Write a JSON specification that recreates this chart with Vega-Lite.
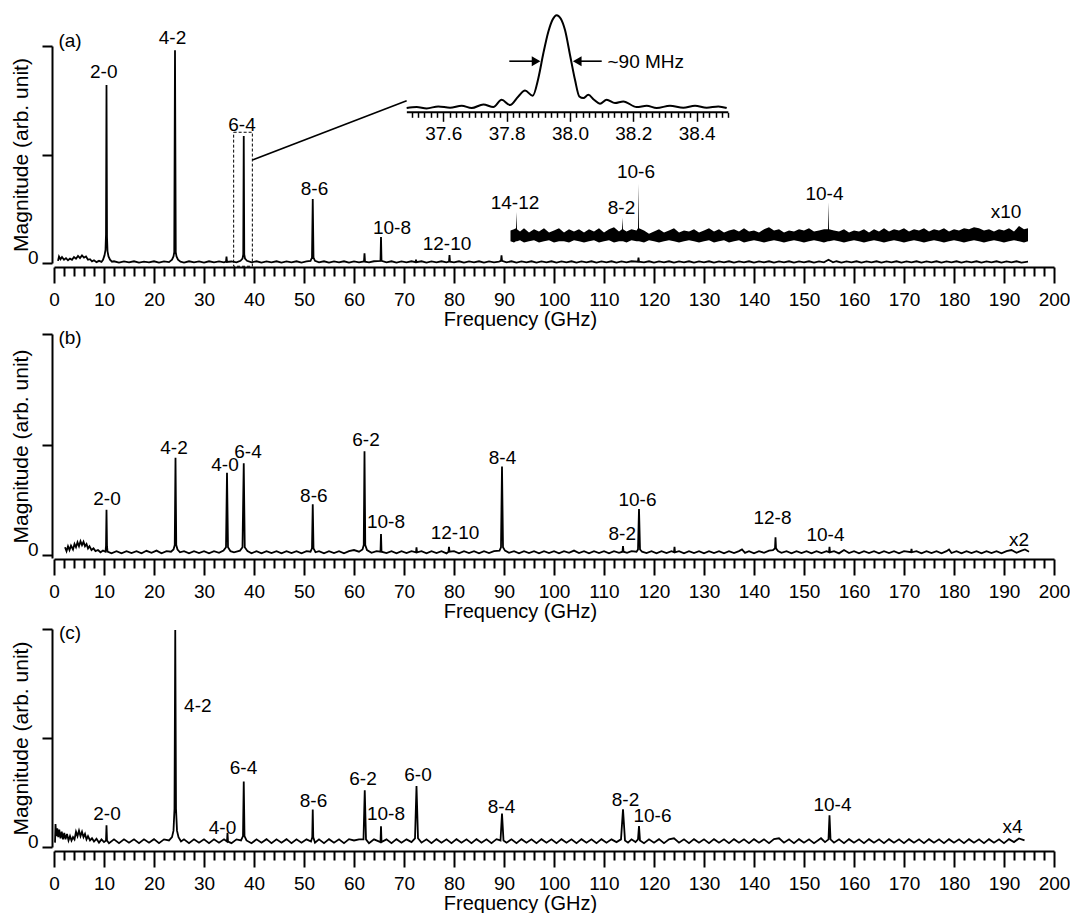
{
"$schema":"https://vega.github.io/schema/vega-lite/v6.json",
"padding":{"left":10,"top":11,"right":0,"bottom":0},
"config":{"font":"Liberation Sans","view":{"stroke":null},
"axis":{"domainColor":"black","domainWidth":2,"tickColor":"black","tickWidth":2,"labelColor":"black","labelFontSize":19,"titleColor":"black","titleFontWeight":"normal","grid":false}},
"datasets":{
"a":[{"f":0.8,"v":0.02},{"f":1.0,"v":0.06},{"f":1.3,"v":0.035},{"f":1.6,"v":0.055},{"f":2.0,"v":0.03},{"f":2.4,"v":0.045},{"f":2.8,"v":0.025},{"f":3.2,"v":0.04},{"f":3.6,"v":0.03},{"f":4.0,"v":0.055},{"f":4.4,"v":0.04},{"f":4.8,"v":0.065},{"f":5.2,"v":0.045},{"f":5.6,"v":0.07},{"f":6.0,"v":0.05},{"f":6.4,"v":0.06},{"f":6.8,"v":0.03},{"f":7.2,"v":0.035},{"f":7.6,"v":0.015},{"f":8.0,"v":0.025},{"f":8.5,"v":0.008},{"f":9.0,"v":0.02},{"f":9.5,"v":0.01},{"f":9.8,"v":0.03},{"f":10.1,"v":0.07},{"f":10.3,"v":0.12},{"f":10.4,"v":0.26},{"f":10.5,"v":1.64},{"f":10.6,"v":0.24},{"f":10.7,"v":0.11},{"f":10.9,"v":0.06},{"f":11.2,"v":0.03},{"f":11.6,"v":0.012},{"f":12,"v":0.016},{"f":13,"v":0.004},{"f":14,"v":0.014},{"f":15,"v":0.006},{"f":16,"v":0.016},{"f":17,"v":0.004},{"f":18,"v":0.012},{"f":19,"v":0.006},{"f":20,"v":0.016},{"f":21,"v":0.004},{"f":22,"v":0.014},{"f":23,"v":0.008},{"f":23.6,"v":0.03},{"f":23.9,"v":0.06},{"f":24.05,"v":0.1},{"f":24.2,"v":1.96},{"f":24.35,"v":0.1},{"f":24.5,"v":0.06},{"f":24.8,"v":0.03},{"f":25.3,"v":0.012},{"f":26,"v":0.004},{"f":27,"v":0.016},{"f":28,"v":0.006},{"f":29,"v":0.014},{"f":30,"v":0.004},{"f":31,"v":0.016},{"f":32,"v":0.006},{"f":33,"v":0.014},{"f":34,"v":0.006},{"f":34.4,"v":0.012},{"f":34.5,"v":0.06},{"f":34.6,"v":0.01},{"f":35.5,"v":0.014},{"f":36.5,"v":0.006},{"f":37.3,"v":0.02},{"f":37.7,"v":0.04},{"f":37.85,"v":0.08},{"f":37.95,"v":1.17},{"f":38.05,"v":0.08},{"f":38.2,"v":0.04},{"f":38.6,"v":0.02},{"f":39.5,"v":0.006},{"f":40.5,"v":0.016},{"f":41.5,"v":0.004},{"f":42.5,"v":0.014},{"f":43.5,"v":0.006},{"f":44.5,"v":0.016},{"f":45.5,"v":0.004},{"f":46.5,"v":0.014},{"f":47.5,"v":0.006},{"f":48.5,"v":0.016},{"f":49.5,"v":0.004},{"f":50.5,"v":0.014},{"f":51.3,"v":0.02},{"f":51.6,"v":0.05},{"f":51.75,"v":0.59},{"f":51.9,"v":0.05},{"f":52.2,"v":0.02},{"f":53,"v":0.006},{"f":54,"v":0.016},{"f":55,"v":0.004},{"f":56,"v":0.014},{"f":57,"v":0.006},{"f":58,"v":0.016},{"f":59,"v":0.004},{"f":60,"v":0.014},{"f":61,"v":0.006},{"f":62.0,"v":0.014},{"f":62.1,"v":0.09},{"f":62.2,"v":0.012},{"f":63,"v":0.006},{"f":64,"v":0.016},{"f":65.3,"v":0.02},{"f":65.4,"v":0.24},{"f":65.5,"v":0.02},{"f":66.5,"v":0.006},{"f":67.5,"v":0.016},{"f":68.5,"v":0.004},{"f":69.5,"v":0.014},{"f":70.5,"v":0.006},{"f":71.5,"v":0.016},{"f":72.3,"v":0.008},{"f":72.4,"v":0.03},{"f":72.5,"v":0.008},{"f":73.5,"v":0.016},{"f":74.5,"v":0.004},{"f":75.5,"v":0.014},{"f":76.5,"v":0.006},{"f":77.5,"v":0.016},{"f":78.5,"v":0.006},{"f":79.0,"v":0.014},{"f":79.1,"v":0.073},{"f":79.2,"v":0.012},{"f":80,"v":0.006},{"f":81,"v":0.016},{"f":82,"v":0.004},{"f":83,"v":0.014},{"f":84,"v":0.006},{"f":85,"v":0.016},{"f":86,"v":0.004},{"f":87,"v":0.014},{"f":88,"v":0.006},{"f":89.0,"v":0.012},{"f":89.4,"v":0.02},{"f":89.5,"v":0.07},{"f":89.6,"v":0.02},{"f":90.5,"v":0.006},{"f":91.5,"v":0.016},{"f":92.5,"v":0.004},{"f":93.5,"v":0.014},{"f":94.5,"v":0.006},{"f":95.5,"v":0.016},{"f":96.5,"v":0.004},{"f":97.5,"v":0.014},{"f":98.5,"v":0.006},{"f":99.5,"v":0.016},{"f":100.5,"v":0.004},{"f":101.5,"v":0.014},{"f":102.5,"v":0.006},{"f":103.5,"v":0.016},{"f":104.5,"v":0.004},{"f":105.5,"v":0.014},{"f":106.5,"v":0.006},{"f":107.5,"v":0.016},{"f":108.5,"v":0.004},{"f":109.5,"v":0.014},{"f":110.5,"v":0.006},{"f":111.5,"v":0.016},{"f":112.5,"v":0.004},{"f":113.5,"v":0.014},{"f":114.5,"v":0.006},{"f":115.5,"v":0.016},{"f":116.8,"v":0.012},{"f":116.9,"v":0.05},{"f":117.0,"v":0.012},{"f":118,"v":0.006},{"f":119,"v":0.016},{"f":120,"v":0.004},{"f":121,"v":0.014},{"f":122,"v":0.006},{"f":123,"v":0.016},{"f":124,"v":0.004},{"f":125,"v":0.014},{"f":126,"v":0.006},{"f":127,"v":0.016},{"f":128,"v":0.004},{"f":129,"v":0.014},{"f":130,"v":0.006},{"f":131,"v":0.016},{"f":132,"v":0.004},{"f":133,"v":0.014},{"f":134,"v":0.006},{"f":135,"v":0.016},{"f":136,"v":0.004},{"f":137,"v":0.014},{"f":138,"v":0.006},{"f":139,"v":0.016},{"f":140,"v":0.004},{"f":141,"v":0.014},{"f":142,"v":0.006},{"f":143,"v":0.016},{"f":144,"v":0.004},{"f":145,"v":0.014},{"f":146,"v":0.006},{"f":147,"v":0.016},{"f":148,"v":0.004},{"f":149,"v":0.014},{"f":150,"v":0.006},{"f":151,"v":0.016},{"f":152,"v":0.004},{"f":153,"v":0.014},{"f":154,"v":0.006},{"f":154.9,"v":0.03},{"f":155.8,"v":0.006},{"f":156.5,"v":0.016},{"f":157.5,"v":0.004},{"f":158.5,"v":0.014},{"f":159.5,"v":0.006},{"f":160.5,"v":0.016},{"f":161.5,"v":0.004},{"f":162.5,"v":0.014},{"f":163.5,"v":0.006},{"f":164.5,"v":0.016},{"f":165.5,"v":0.004},{"f":166.5,"v":0.014},{"f":167.5,"v":0.006},{"f":168.5,"v":0.016},{"f":169.5,"v":0.004},{"f":170.5,"v":0.014},{"f":171.5,"v":0.006},{"f":172.5,"v":0.016},{"f":173.5,"v":0.004},{"f":174.5,"v":0.014},{"f":175.5,"v":0.006},{"f":176.5,"v":0.016},{"f":177.5,"v":0.004},{"f":178.5,"v":0.014},{"f":179.5,"v":0.006},{"f":180.5,"v":0.016},{"f":181.5,"v":0.004},{"f":182.5,"v":0.014},{"f":183.5,"v":0.006},{"f":184.5,"v":0.016},{"f":185.5,"v":0.004},{"f":186.5,"v":0.014},{"f":187.5,"v":0.006},{"f":188.5,"v":0.016},{"f":189.5,"v":0.004},{"f":190.5,"v":0.014},{"f":191.5,"v":0.006},{"f":192.5,"v":0.016},{"f":193.5,"v":0.004},{"f":194.8,"v":0.012}],
"ax":[{"f":91.3,"hi":0.3,"lo":0.2},{"f":92.0,"hi":0.31,"lo":0.19},{"f":92.4,"hi":0.32,"lo":0.2},{"f":92.5,"hi":0.47,"lo":0.2},{"f":92.6,"hi":0.31,"lo":0.2},{"f":93.2,"hi":0.29,"lo":0.21},{"f":94,"hi":0.32,"lo":0.19},{"f":95,"hi":0.28,"lo":0.2},{"f":96,"hi":0.31,"lo":0.21},{"f":97,"hi":0.29,"lo":0.19},{"f":98,"hi":0.32,"lo":0.2},{"f":99,"hi":0.28,"lo":0.21},{"f":100,"hi":0.3,"lo":0.19},{"f":101,"hi":0.32,"lo":0.2},{"f":102,"hi":0.28,"lo":0.2},{"f":103,"hi":0.31,"lo":0.19},{"f":104,"hi":0.29,"lo":0.21},{"f":105,"hi":0.31,"lo":0.2},{"f":106,"hi":0.28,"lo":0.19},{"f":107,"hi":0.31,"lo":0.2},{"f":108,"hi":0.29,"lo":0.21},{"f":109,"hi":0.32,"lo":0.19},{"f":110,"hi":0.28,"lo":0.2},{"f":111,"hi":0.31,"lo":0.21},{"f":112,"hi":0.33,"lo":0.19},{"f":113,"hi":0.29,"lo":0.2},{"f":113.6,"hi":0.31,"lo":0.2},{"f":113.7,"hi":0.42,"lo":0.2},{"f":113.8,"hi":0.31,"lo":0.2},{"f":114.5,"hi":0.29,"lo":0.19},{"f":115.5,"hi":0.31,"lo":0.21},{"f":116.5,"hi":0.3,"lo":0.2},{"f":116.8,"hi":0.32,"lo":0.2},{"f":116.9,"hi":0.73,"lo":0.2},{"f":117.0,"hi":0.32,"lo":0.2},{"f":118,"hi":0.3,"lo":0.19},{"f":119,"hi":0.27,"lo":0.21},{"f":120,"hi":0.29,"lo":0.2},{"f":121,"hi":0.31,"lo":0.19},{"f":122,"hi":0.28,"lo":0.2},{"f":123,"hi":0.3,"lo":0.21},{"f":124,"hi":0.32,"lo":0.2},{"f":125,"hi":0.28,"lo":0.19},{"f":126,"hi":0.3,"lo":0.2},{"f":127,"hi":0.29,"lo":0.21},{"f":128,"hi":0.31,"lo":0.2},{"f":129,"hi":0.28,"lo":0.19},{"f":130,"hi":0.3,"lo":0.2},{"f":131,"hi":0.32,"lo":0.21},{"f":132,"hi":0.29,"lo":0.19},{"f":133,"hi":0.31,"lo":0.2},{"f":134,"hi":0.28,"lo":0.21},{"f":135,"hi":0.3,"lo":0.19},{"f":136,"hi":0.31,"lo":0.2},{"f":137,"hi":0.29,"lo":0.21},{"f":138,"hi":0.32,"lo":0.19},{"f":139,"hi":0.29,"lo":0.2},{"f":140,"hi":0.3,"lo":0.21},{"f":141,"hi":0.28,"lo":0.2},{"f":142,"hi":0.31,"lo":0.19},{"f":143,"hi":0.33,"lo":0.2},{"f":144,"hi":0.3,"lo":0.21},{"f":145,"hi":0.31,"lo":0.2},{"f":146,"hi":0.28,"lo":0.19},{"f":147,"hi":0.3,"lo":0.2},{"f":148,"hi":0.29,"lo":0.21},{"f":149,"hi":0.31,"lo":0.2},{"f":150,"hi":0.3,"lo":0.19},{"f":151,"hi":0.32,"lo":0.2},{"f":152,"hi":0.29,"lo":0.21},{"f":153,"hi":0.3,"lo":0.2},{"f":154,"hi":0.31,"lo":0.19},{"f":154.8,"hi":0.31,"lo":0.2},{"f":154.9,"hi":0.56,"lo":0.2},{"f":155.0,"hi":0.31,"lo":0.2},{"f":156,"hi":0.3,"lo":0.21},{"f":157,"hi":0.29,"lo":0.2},{"f":158,"hi":0.31,"lo":0.19},{"f":159,"hi":0.28,"lo":0.2},{"f":160,"hi":0.3,"lo":0.21},{"f":161,"hi":0.29,"lo":0.2},{"f":162,"hi":0.31,"lo":0.19},{"f":163,"hi":0.28,"lo":0.2},{"f":164,"hi":0.31,"lo":0.21},{"f":165,"hi":0.29,"lo":0.2},{"f":166,"hi":0.32,"lo":0.19},{"f":167,"hi":0.29,"lo":0.2},{"f":168,"hi":0.31,"lo":0.21},{"f":169,"hi":0.3,"lo":0.2},{"f":170,"hi":0.32,"lo":0.19},{"f":171,"hi":0.29,"lo":0.2},{"f":172,"hi":0.31,"lo":0.21},{"f":173,"hi":0.3,"lo":0.2},{"f":174,"hi":0.32,"lo":0.19},{"f":175,"hi":0.29,"lo":0.2},{"f":176,"hi":0.31,"lo":0.21},{"f":177,"hi":0.3,"lo":0.2},{"f":178,"hi":0.32,"lo":0.19},{"f":179,"hi":0.29,"lo":0.2},{"f":180,"hi":0.31,"lo":0.21},{"f":181,"hi":0.3,"lo":0.2},{"f":182,"hi":0.32,"lo":0.19},{"f":183,"hi":0.31,"lo":0.2},{"f":184,"hi":0.33,"lo":0.21},{"f":185,"hi":0.32,"lo":0.2},{"f":186,"hi":0.3,"lo":0.19},{"f":187,"hi":0.31,"lo":0.2},{"f":188,"hi":0.29,"lo":0.21},{"f":189,"hi":0.31,"lo":0.2},{"f":190,"hi":0.3,"lo":0.19},{"f":191,"hi":0.32,"lo":0.2},{"f":192,"hi":0.29,"lo":0.21},{"f":193,"hi":0.34,"lo":0.2},{"f":194,"hi":0.31,"lo":0.19},{"f":194.8,"hi":0.32,"lo":0.2}],
"la":[{"f":3.2,"v":2.046,"t":"(a)"},{"f":9.95,"v":1.757,"t":"2-0"},{"f":23.7,"v":2.07,"t":"4-2"},{"f":37.6,"v":1.275,"t":"6-4"},{"f":52.1,"v":0.68,"t":"8-6"},{"f":67.6,"v":0.326,"t":"10-8"},{"f":78.6,"v":0.175,"t":"12-10"},{"f":92.2,"v":0.55,"t":"14-12"},{"f":113.5,"v":0.51,"t":"8-2"},{"f":116.4,"v":0.835,"t":"10-6"},{"f":154.1,"v":0.64,"t":"10-4"},{"f":190.4,"v":0.47,"t":"x10"}],
"box":[{"f":35.93,"f2":39.67,"v":-0.03,"v2":1.205}],
"conn":[{"f":39.67,"v":0.949,"f2":70.53,"v2":1.496}],
"ins":[{"f":37.4844,"v":1.4282},{"f":37.516,"v":1.437},{"f":37.5476,"v":1.425},{"f":37.5844,"v":1.4434},{"f":37.6213,"v":1.431},{"f":37.6581,"v":1.4495},{"f":37.6897,"v":1.428},{"f":37.7265,"v":1.4618},{"f":37.7581,"v":1.437},{"f":37.7844,"v":1.5046},{"f":37.8107,"v":1.4557},{"f":37.837,"v":1.5352},{"f":37.8581,"v":1.5902},{"f":37.8823,"v":1.5413},{"f":37.9002,"v":1.7034},{"f":37.916,"v":1.9327},{"f":37.9317,"v":2.1315},{"f":37.9454,"v":2.2446},{"f":37.9581,"v":2.2844},{"f":37.9707,"v":2.2538},{"f":37.9844,"v":2.1468},{"f":38.0002,"v":1.9174},{"f":38.0159,"v":1.6881},{"f":38.0296,"v":1.5352},{"f":38.0423,"v":1.5199},{"f":38.058,"v":1.5505},{"f":38.0759,"v":1.5046},{"f":38.0949,"v":1.4679},{"f":38.1159,"v":1.5046},{"f":38.1422,"v":1.474},{"f":38.1685,"v":1.4893},{"f":38.2107,"v":1.437},{"f":38.2423,"v":1.4495},{"f":38.2738,"v":1.428},{"f":38.3159,"v":1.4495},{"f":38.358,"v":1.431},{"f":38.3949,"v":1.4495},{"f":38.4317,"v":1.431},{"f":38.4685,"v":1.4434},{"f":38.4949,"v":1.4282}],
"insAx":[{"f":37.485,"f2":38.5,"v":1.389}],
"insArr":[{"f":37.8085,"f2":37.9,"v":1.86},{"f":38.02,"f2":38.1003,"v":1.86}],
"headR":[{"f":37.893,"v":1.86}],
"headL":[{"f":38.023,"v":1.86}],
"insT":[{"f":38.2395,"v":1.856,"t":"~90 MHz"}],
"b":[{"f":2.2,"v":0.07},{"f":2.5,"v":0.035},{"f":2.8,"v":0.08},{"f":3.1,"v":0.045},{"f":3.4,"v":0.085},{"f":3.8,"v":0.05},{"f":4.1,"v":0.1},{"f":4.4,"v":0.07},{"f":4.7,"v":0.115},{"f":5.0,"v":0.08},{"f":5.3,"v":0.125},{"f":5.6,"v":0.09},{"f":5.9,"v":0.12},{"f":6.2,"v":0.08},{"f":6.5,"v":0.1},{"f":6.8,"v":0.06},{"f":7.1,"v":0.08},{"f":7.5,"v":0.045},{"f":7.9,"v":0.06},{"f":8.3,"v":0.035},{"f":8.8,"v":0.045},{"f":9.3,"v":0.025},{"f":9.8,"v":0.04},{"f":10.3,"v":0.03},{"f":10.4,"v":0.08},{"f":10.5,"v":0.41},{"f":10.6,"v":0.08},{"f":10.7,"v":0.03},{"f":11.5,"v":0.015},{"f":12.5,"v":0.035},{"f":13.5,"v":0.015},{"f":14.5,"v":0.035},{"f":15.5,"v":0.018},{"f":16.5,"v":0.035},{"f":17.5,"v":0.015},{"f":18.5,"v":0.038},{"f":19.5,"v":0.02},{"f":20.5,"v":0.04},{"f":21.5,"v":0.015},{"f":22.5,"v":0.035},{"f":23.4,"v":0.03},{"f":23.9,"v":0.05},{"f":24.15,"v":0.09},{"f":24.3,"v":0.88},{"f":24.45,"v":0.09},{"f":24.7,"v":0.05},{"f":25.2,"v":0.025},{"f":26,"v":0.035},{"f":27,"v":0.015},{"f":28,"v":0.035},{"f":29,"v":0.018},{"f":30,"v":0.035},{"f":31,"v":0.015},{"f":32,"v":0.035},{"f":33,"v":0.02},{"f":33.9,"v":0.04},{"f":34.4,"v":0.07},{"f":34.6,"v":0.745},{"f":34.8,"v":0.07},{"f":35.3,"v":0.035},{"f":36,"v":0.025},{"f":37.2,"v":0.04},{"f":37.7,"v":0.07},{"f":37.95,"v":0.83},{"f":38.15,"v":0.07},{"f":38.7,"v":0.035},{"f":39.5,"v":0.015},{"f":40.5,"v":0.035},{"f":41.5,"v":0.015},{"f":42.5,"v":0.035},{"f":43.5,"v":0.018},{"f":44.5,"v":0.035},{"f":45.5,"v":0.015},{"f":46.5,"v":0.035},{"f":47.5,"v":0.018},{"f":48.5,"v":0.035},{"f":49.5,"v":0.015},{"f":50.5,"v":0.035},{"f":51.3,"v":0.03},{"f":51.6,"v":0.06},{"f":51.75,"v":0.46},{"f":51.9,"v":0.06},{"f":52.3,"v":0.025},{"f":53,"v":0.035},{"f":54,"v":0.015},{"f":55,"v":0.035},{"f":56,"v":0.018},{"f":57,"v":0.035},{"f":58,"v":0.015},{"f":59,"v":0.035},{"f":60,"v":0.045},{"f":61,"v":0.03},{"f":61.7,"v":0.05},{"f":61.95,"v":0.09},{"f":62.1,"v":0.94},{"f":62.25,"v":0.09},{"f":62.6,"v":0.045},{"f":63.5,"v":0.02},{"f":64.5,"v":0.035},{"f":65.3,"v":0.03},{"f":65.4,"v":0.19},{"f":65.5,"v":0.03},{"f":66.5,"v":0.018},{"f":67.5,"v":0.035},{"f":68.5,"v":0.015},{"f":69.5,"v":0.035},{"f":70.5,"v":0.018},{"f":71.5,"v":0.035},{"f":72.4,"v":0.025},{"f":72.5,"v":0.07},{"f":72.6,"v":0.025},{"f":73.5,"v":0.035},{"f":74.5,"v":0.015},{"f":75.5,"v":0.035},{"f":76.5,"v":0.018},{"f":77.5,"v":0.035},{"f":78.5,"v":0.015},{"f":78.9,"v":0.03},{"f":79.0,"v":0.075},{"f":79.1,"v":0.03},{"f":80,"v":0.035},{"f":81,"v":0.015},{"f":82,"v":0.035},{"f":83,"v":0.018},{"f":84,"v":0.035},{"f":85,"v":0.015},{"f":86,"v":0.035},{"f":87,"v":0.018},{"f":88,"v":0.035},{"f":89.1,"v":0.04},{"f":89.4,"v":0.07},{"f":89.6,"v":0.8},{"f":89.8,"v":0.07},{"f":90.2,"v":0.04},{"f":91,"v":0.02},{"f":92,"v":0.035},{"f":93,"v":0.015},{"f":94,"v":0.035},{"f":95,"v":0.018},{"f":96,"v":0.035},{"f":97,"v":0.015},{"f":98,"v":0.035},{"f":99,"v":0.018},{"f":100,"v":0.035},{"f":101,"v":0.015},{"f":102,"v":0.035},{"f":103,"v":0.02},{"f":104,"v":0.04},{"f":105,"v":0.018},{"f":106,"v":0.035},{"f":107,"v":0.015},{"f":108,"v":0.035},{"f":109,"v":0.018},{"f":110,"v":0.035},{"f":111,"v":0.015},{"f":112,"v":0.035},{"f":113,"v":0.02},{"f":113.7,"v":0.03},{"f":113.8,"v":0.08},{"f":113.9,"v":0.03},{"f":114.6,"v":0.02},{"f":115.5,"v":0.035},{"f":116.5,"v":0.03},{"f":116.8,"v":0.05},{"f":117.0,"v":0.416},{"f":117.2,"v":0.05},{"f":117.6,"v":0.03},{"f":118.5,"v":0.018},{"f":119.5,"v":0.035},{"f":120.5,"v":0.015},{"f":121.5,"v":0.035},{"f":122.5,"v":0.018},{"f":123.5,"v":0.035},{"f":124.0,"v":0.025},{"f":124.1,"v":0.075},{"f":124.2,"v":0.025},{"f":125,"v":0.035},{"f":126,"v":0.015},{"f":127,"v":0.035},{"f":128,"v":0.018},{"f":129,"v":0.035},{"f":130,"v":0.015},{"f":131,"v":0.035},{"f":132,"v":0.018},{"f":133,"v":0.035},{"f":134,"v":0.015},{"f":135,"v":0.035},{"f":136,"v":0.018},{"f":137,"v":0.035},{"f":137.6,"v":0.05},{"f":138.2,"v":0.02},{"f":139,"v":0.035},{"f":140,"v":0.015},{"f":141,"v":0.035},{"f":142,"v":0.02},{"f":143,"v":0.04},{"f":143.8,"v":0.045},{"f":144.2,"v":0.06},{"f":144.3,"v":0.16},{"f":144.4,"v":0.06},{"f":144.8,"v":0.035},{"f":145.5,"v":0.02},{"f":146.5,"v":0.035},{"f":147.5,"v":0.015},{"f":148.5,"v":0.035},{"f":149.5,"v":0.018},{"f":150.5,"v":0.035},{"f":151.5,"v":0.015},{"f":152.5,"v":0.035},{"f":153.5,"v":0.018},{"f":154.5,"v":0.035},{"f":155.0,"v":0.025},{"f":155.1,"v":0.075},{"f":155.2,"v":0.025},{"f":156,"v":0.035},{"f":157,"v":0.015},{"f":158,"v":0.045},{"f":159,"v":0.018},{"f":160,"v":0.035},{"f":161,"v":0.015},{"f":162,"v":0.035},{"f":163,"v":0.018},{"f":164,"v":0.035},{"f":165,"v":0.015},{"f":166,"v":0.035},{"f":167,"v":0.018},{"f":168,"v":0.035},{"f":169,"v":0.015},{"f":170,"v":0.035},{"f":171.4,"v":0.025},{"f":171.5,"v":0.055},{"f":171.6,"v":0.025},{"f":172.5,"v":0.035},{"f":173.5,"v":0.015},{"f":174.5,"v":0.035},{"f":175.5,"v":0.018},{"f":176.5,"v":0.035},{"f":177.5,"v":0.015},{"f":178.5,"v":0.035},{"f":179,"v":0.05},{"f":179.5,"v":0.018},{"f":180.5,"v":0.035},{"f":181.5,"v":0.015},{"f":182.5,"v":0.035},{"f":183.5,"v":0.018},{"f":184.5,"v":0.035},{"f":185.5,"v":0.015},{"f":186.5,"v":0.035},{"f":187.5,"v":0.018},{"f":188.5,"v":0.035},{"f":189.5,"v":0.015},{"f":190.5,"v":0.035},{"f":191.5,"v":0.045},{"f":192.5,"v":0.02},{"f":193.5,"v":0.04},{"f":194.2,"v":0.05},{"f":195,"v":0.03}],
"lb":[{"f":3.2,"v":1.967,"t":"(b)"},{"f":10.6,"v":0.504,"t":"2-0"},{"f":24.0,"v":0.971,"t":"4-2"},{"f":34.2,"v":0.814,"t":"4-0"},{"f":38.8,"v":0.934,"t":"6-4"},{"f":51.97,"v":0.53,"t":"8-6"},{"f":62.4,"v":1.038,"t":"6-2"},{"f":66.4,"v":0.299,"t":"10-8"},{"f":80.2,"v":0.2,"t":"12-10"},{"f":89.7,"v":0.88,"t":"8-4"},{"f":113.65,"v":0.19,"t":"8-2"},{"f":116.7,"v":0.5,"t":"10-6"},{"f":143.7,"v":0.335,"t":"12-8"},{"f":154.3,"v":0.18,"t":"10-4"},{"f":193.0,"v":0.134,"t":"x2"}],
"c":[{"f":0.2,"v":0.04},{"f":0.3,"v":0.21},{"f":0.45,"v":0.1},{"f":0.65,"v":0.17},{"f":0.85,"v":0.09},{"f":1.05,"v":0.16},{"f":1.3,"v":0.08},{"f":1.55,"v":0.14},{"f":1.8,"v":0.07},{"f":2.05,"v":0.13},{"f":2.3,"v":0.07},{"f":2.6,"v":0.12},{"f":2.9,"v":0.06},{"f":3.2,"v":0.1},{"f":3.5,"v":0.06},{"f":3.8,"v":0.09},{"f":4.1,"v":0.07},{"f":4.4,"v":0.14},{"f":4.7,"v":0.1},{"f":5.0,"v":0.15},{"f":5.3,"v":0.1},{"f":5.6,"v":0.14},{"f":5.9,"v":0.09},{"f":6.2,"v":0.12},{"f":6.5,"v":0.07},{"f":6.8,"v":0.1},{"f":7.2,"v":0.06},{"f":7.6,"v":0.08},{"f":8.0,"v":0.05},{"f":8.5,"v":0.075},{"f":9.0,"v":0.04},{"f":9.5,"v":0.07},{"f":10.0,"v":0.045},{"f":10.4,"v":0.06},{"f":10.5,"v":0.2},{"f":10.6,"v":0.06},{"f":11.0,"v":0.035},{"f":12,"v":0.07},{"f":13,"v":0.035},{"f":14,"v":0.07},{"f":15,"v":0.04},{"f":16,"v":0.07},{"f":17,"v":0.035},{"f":18,"v":0.07},{"f":19,"v":0.04},{"f":20,"v":0.072},{"f":21,"v":0.035},{"f":22,"v":0.07},{"f":23,"v":0.06},{"f":23.6,"v":0.09},{"f":23.9,"v":0.15},{"f":24.1,"v":0.35},{"f":24.25,"v":1.99},{"f":24.4,"v":0.35},{"f":24.6,"v":0.15},{"f":24.9,"v":0.09},{"f":25.4,"v":0.05},{"f":26,"v":0.07},{"f":27,"v":0.035},{"f":28,"v":0.07},{"f":29,"v":0.04},{"f":30,"v":0.07},{"f":31,"v":0.035},{"f":32,"v":0.07},{"f":33,"v":0.04},{"f":34,"v":0.07},{"f":34.6,"v":0.05},{"f":34.7,"v":0.13},{"f":34.8,"v":0.05},{"f":35.5,"v":0.035},{"f":36.5,"v":0.07},{"f":37.4,"v":0.06},{"f":37.8,"v":0.1},{"f":37.95,"v":0.6},{"f":38.1,"v":0.1},{"f":38.5,"v":0.06},{"f":39.5,"v":0.035},{"f":40.5,"v":0.07},{"f":41.5,"v":0.04},{"f":42.5,"v":0.072},{"f":43.5,"v":0.035},{"f":44.5,"v":0.07},{"f":45.5,"v":0.04},{"f":46.5,"v":0.072},{"f":47.5,"v":0.035},{"f":48.5,"v":0.07},{"f":49.5,"v":0.04},{"f":50.5,"v":0.07},{"f":51.4,"v":0.05},{"f":51.65,"v":0.09},{"f":51.75,"v":0.345},{"f":51.85,"v":0.09},{"f":52.2,"v":0.04},{"f":53,"v":0.07},{"f":54,"v":0.035},{"f":55,"v":0.072},{"f":56,"v":0.04},{"f":57,"v":0.07},{"f":58,"v":0.035},{"f":59,"v":0.072},{"f":60,"v":0.06},{"f":61,"v":0.07},{"f":61.9,"v":0.07},{"f":62.15,"v":0.52},{"f":62.4,"v":0.07},{"f":63,"v":0.035},{"f":64,"v":0.07},{"f":65.3,"v":0.045},{"f":65.4,"v":0.19},{"f":65.5,"v":0.045},{"f":66.5,"v":0.07},{"f":67.5,"v":0.035},{"f":68.5,"v":0.072},{"f":69.5,"v":0.04},{"f":70.5,"v":0.07},{"f":71.5,"v":0.045},{"f":72.2,"v":0.08},{"f":72.5,"v":0.56},{"f":72.8,"v":0.08},{"f":73.5,"v":0.04},{"f":74.5,"v":0.07},{"f":75.5,"v":0.035},{"f":76.5,"v":0.072},{"f":77.5,"v":0.04},{"f":78.5,"v":0.07},{"f":79.5,"v":0.035},{"f":80.5,"v":0.072},{"f":81.5,"v":0.04},{"f":82.5,"v":0.07},{"f":83.5,"v":0.035},{"f":84.5,"v":0.072},{"f":85.5,"v":0.04},{"f":86.5,"v":0.07},{"f":87.5,"v":0.035},{"f":88.5,"v":0.072},{"f":89.3,"v":0.06},{"f":89.6,"v":0.306},{"f":89.9,"v":0.06},{"f":90.5,"v":0.04},{"f":91.5,"v":0.07},{"f":92.5,"v":0.035},{"f":93.5,"v":0.072},{"f":94.5,"v":0.04},{"f":95.5,"v":0.07},{"f":96.5,"v":0.035},{"f":97.5,"v":0.072},{"f":98.5,"v":0.04},{"f":99.5,"v":0.07},{"f":100.5,"v":0.035},{"f":101.5,"v":0.072},{"f":102.5,"v":0.04},{"f":103.5,"v":0.07},{"f":104.5,"v":0.035},{"f":105.5,"v":0.072},{"f":106.5,"v":0.04},{"f":107.5,"v":0.07},{"f":108.5,"v":0.035},{"f":109.5,"v":0.072},{"f":110.5,"v":0.04},{"f":111.5,"v":0.07},{"f":112.5,"v":0.045},{"f":113.4,"v":0.07},{"f":113.8,"v":0.346},{"f":114.2,"v":0.06},{"f":114.8,"v":0.04},{"f":115.5,"v":0.07},{"f":116.3,"v":0.045},{"f":116.8,"v":0.07},{"f":117.0,"v":0.193},{"f":117.2,"v":0.06},{"f":118,"v":0.035},{"f":119,"v":0.07},{"f":120,"v":0.04},{"f":121,"v":0.072},{"f":122,"v":0.035},{"f":123,"v":0.07},{"f":124,"v":0.08},{"f":125,"v":0.04},{"f":126,"v":0.07},{"f":127,"v":0.035},{"f":128,"v":0.072},{"f":129,"v":0.04},{"f":130,"v":0.07},{"f":131,"v":0.035},{"f":132,"v":0.072},{"f":133,"v":0.04},{"f":134,"v":0.07},{"f":135,"v":0.035},{"f":136,"v":0.072},{"f":137,"v":0.04},{"f":138,"v":0.07},{"f":139,"v":0.035},{"f":140,"v":0.072},{"f":141,"v":0.04},{"f":142,"v":0.07},{"f":143,"v":0.035},{"f":144,"v":0.072},{"f":145,"v":0.08},{"f":146,"v":0.04},{"f":147,"v":0.07},{"f":148,"v":0.035},{"f":149,"v":0.072},{"f":150,"v":0.04},{"f":151,"v":0.07},{"f":152,"v":0.035},{"f":153.4,"v":0.08},{"f":154.2,"v":0.045},{"f":154.9,"v":0.07},{"f":155.1,"v":0.29},{"f":155.3,"v":0.07},{"f":156,"v":0.04},{"f":157,"v":0.07},{"f":158,"v":0.035},{"f":159,"v":0.072},{"f":160,"v":0.04},{"f":161,"v":0.07},{"f":162,"v":0.035},{"f":163,"v":0.072},{"f":164,"v":0.04},{"f":165,"v":0.07},{"f":166,"v":0.035},{"f":167,"v":0.072},{"f":168,"v":0.04},{"f":169,"v":0.07},{"f":170,"v":0.035},{"f":171,"v":0.072},{"f":172,"v":0.04},{"f":173,"v":0.07},{"f":174,"v":0.035},{"f":175,"v":0.072},{"f":176,"v":0.04},{"f":177,"v":0.07},{"f":178,"v":0.035},{"f":179,"v":0.072},{"f":180,"v":0.04},{"f":181,"v":0.07},{"f":182,"v":0.035},{"f":183,"v":0.072},{"f":184,"v":0.04},{"f":185,"v":0.07},{"f":186,"v":0.035},{"f":187,"v":0.072},{"f":188,"v":0.04},{"f":189,"v":0.07},{"f":190,"v":0.035},{"f":191,"v":0.072},{"f":192,"v":0.045},{"f":193,"v":0.078},{"f":194.1,"v":0.06}],
"lc":[{"f":3.2,"v":1.96,"t":"(c)"},{"f":10.6,"v":0.3,"t":"2-0"},{"f":28.76,"v":1.29,"t":"4-2"},{"f":33.7,"v":0.174,"t":"4-0"},{"f":37.9,"v":0.725,"t":"6-4"},{"f":51.9,"v":0.42,"t":"8-6"},{"f":61.8,"v":0.62,"t":"6-2"},{"f":66.4,"v":0.3,"t":"10-8"},{"f":72.8,"v":0.66,"t":"6-0"},{"f":89.5,"v":0.37,"t":"8-4"},{"f":114.3,"v":0.43,"t":"8-2"},{"f":119.7,"v":0.28,"t":"10-6"},{"f":155.7,"v":0.385,"t":"10-4"},{"f":191.7,"v":0.18,"t":"x4"}]
},
"bounds":"flush",
"spacing":71,
"vconcat":[
{"width":1000,"height":217,
"encoding":{"y":{"field":"v","type":"quantitative","scale":{"domain":[0,2],"nice":false,"zero":false},"axis":{"values":[0,1,2],"offset":2,"tickSize":10,"labelExpr":"datum.value === 0 ? '0' : ''","labelBaseline":"alphabetic","labelPadding":4,"title":"Magnitude (arb. unit)","titleFontSize":21,"titlePadding":-4}}},
"layer":[
{"encoding":{
"x":{"field":"f","type":"quantitative","scale":{"domain":[0,200],"nice":false,"zero":false},"axis":{"orient":"bottom","offset":4,"values":[0,2,4,6,8,10,12,14,16,18,20,22,24,26,28,30,32,34,36,38,40,42,44,46,48,50,52,54,56,58,60,62,64,66,68,70,72,74,76,78,80,82,84,86,88,90,92,94,96,98,100,102,104,106,108,110,112,114,116,118,120,122,124,126,128,130,132,134,136,138,140,142,144,146,148,150,152,154,156,158,160,162,164,166,168,170,172,174,176,178,180,182,184,186,188,190,192,194,196,198,200],"tickSize":{"condition":{"test":"datum.value % 10 === 0","value":16},"value":9},"labelExpr":"datum.value % 10 === 0 ? datum.label : ''","labelFlush":false,"labelOverlap":false,"labelPadding":7,"title":"Frequency (GHz)","titleFontSize":20,"titlePadding":0,"titleX":466}}},
"layer":[
{"data":{"name":"a"},"mark":{"type":"line","color":"black","strokeWidth":1.8}},
{"data":{"name":"ax"},"mark":{"type":"area","color":"black"},"encoding":{"y":{"field":"hi","type":"quantitative","scale":{"domain":[0,2],"nice":false,"zero":false},"axis":{"values":[0,1,2],"offset":2,"tickSize":10,"labelExpr":"datum.value === 0 ? '0' : ''","labelBaseline":"alphabetic","labelPadding":4,"title":"Magnitude (arb. unit)","titleFontSize":21,"titlePadding":-4}},"y2":{"field":"lo"}}},
{"data":{"name":"la"},"mark":{"type":"text","fontSize":19,"color":"black"},"encoding":{"text":{"field":"t"}}},
{"data":{"name":"box"},"mark":{"type":"rect","fillOpacity":0,"stroke":"black","strokeWidth":1,"strokeDash":[3,2]},"encoding":{"x2":{"field":"f2"},"y2":{"field":"v2"}}},
{"data":{"name":"conn"},"mark":{"type":"rule","color":"black","strokeWidth":1.6},"encoding":{"x2":{"field":"f2"},"y2":{"field":"v2"}}}
]},
{"encoding":{
"x":{"field":"f","type":"quantitative","scale":{"domain":[36.37085,39.52841],"nice":false,"zero":false},"axis":{"orient":"bottom","offset":-150.7,"domain":false,"values":[37.5,37.52,37.54,37.56,37.58,37.6,37.62,37.64,37.66,37.68,37.7,37.72,37.74,37.76,37.78,37.8,37.82,37.84,37.86,37.88,37.9,37.92,37.94,37.96,37.98,38,38.02,38.04,38.06,38.08,38.1,38.12,38.14,38.16,38.18,38.2,38.22,38.24,38.26,38.28,38.3,38.32,38.34,38.36,38.38,38.4,38.42,38.44,38.46,38.48,38.5],"tickSize":{"condition":{"test":"abs(datum.value*5-round(datum.value*5))<0.01","value":9},"value":5},"tickWidth":1.5,"labelExpr":"abs(datum.value*5-round(datum.value*5))<0.01 ? format(datum.value,'.1f') : ''","labelFlush":false,"labelOverlap":false,"labelPadding":3,"title":null}}},
"layer":[
{"data":{"name":"ins"},"mark":{"type":"line","color":"black","strokeWidth":2,"interpolate":"monotone"}},
{"data":{"name":"insAx"},"mark":{"type":"rule","color":"black","strokeWidth":2},"encoding":{"x2":{"field":"f2"}}},
{"data":{"name":"insArr"},"mark":{"type":"rule","color":"black","strokeWidth":1.6},"encoding":{"x2":{"field":"f2"}}},
{"data":{"name":"headR"},"mark":{"type":"point","shape":"triangle-right","filled":true,"color":"black","size":100,"opacity":1}},
{"data":{"name":"headL"},"mark":{"type":"point","shape":"triangle-left","filled":true,"color":"black","size":100,"opacity":1}},
{"data":{"name":"insT"},"mark":{"type":"text","fontSize":19,"color":"black"},"encoding":{"text":{"field":"t"}}}
]}
],
"resolve":{"scale":{"x":"independent"},"axis":{"x":"independent"}}
},
{"width":1000,"height":224,
"encoding":{
"x":{"field":"f","type":"quantitative","scale":{"domain":[0,200],"nice":false,"zero":false},"axis":{"orient":"bottom","offset":1,"values":[0,2,4,6,8,10,12,14,16,18,20,22,24,26,28,30,32,34,36,38,40,42,44,46,48,50,52,54,56,58,60,62,64,66,68,70,72,74,76,78,80,82,84,86,88,90,92,94,96,98,100,102,104,106,108,110,112,114,116,118,120,122,124,126,128,130,132,134,136,138,140,142,144,146,148,150,152,154,156,158,160,162,164,166,168,170,172,174,176,178,180,182,184,186,188,190,192,194,196,198,200],"tickSize":{"condition":{"test":"datum.value % 10 === 0","value":16},"value":9},"labelExpr":"datum.value % 10 === 0 ? datum.label : ''","labelFlush":false,"labelOverlap":false,"labelPadding":7,"title":"Frequency (GHz)","titleFontSize":20,"titlePadding":0,"titleX":466}},
"y":{"field":"v","type":"quantitative","scale":{"domain":[-0.027,2],"nice":false,"zero":false},"axis":{"values":[0,1,2],"offset":2,"tickSize":10,"labelExpr":"datum.value === 0 ? '0' : ''","labelBaseline":"alphabetic","labelPadding":4,"title":"Magnitude (arb. unit)","titleFontSize":21,"titlePadding":-4}}},
"layer":[
{"data":{"name":"b"},"mark":{"type":"line","color":"black","strokeWidth":1.8}},
{"data":{"name":"lb"},"mark":{"type":"text","fontSize":19,"color":"black"},"encoding":{"text":{"field":"t"}}}
]},
{"width":1000,"height":218,
"encoding":{
"x":{"field":"f","type":"quantitative","scale":{"domain":[0,200],"nice":false,"zero":false},"axis":{"orient":"bottom","offset":4,"values":[0,2,4,6,8,10,12,14,16,18,20,22,24,26,28,30,32,34,36,38,40,42,44,46,48,50,52,54,56,58,60,62,64,66,68,70,72,74,76,78,80,82,84,86,88,90,92,94,96,98,100,102,104,106,108,110,112,114,116,118,120,122,124,126,128,130,132,134,136,138,140,142,144,146,148,150,152,154,156,158,160,162,164,166,168,170,172,174,176,178,180,182,184,186,188,190,192,194,196,198,200],"tickSize":{"condition":{"test":"datum.value % 10 === 0","value":16},"value":9},"labelExpr":"datum.value % 10 === 0 ? datum.label : ''","labelFlush":false,"labelOverlap":false,"labelPadding":7,"title":"Frequency (GHz)","titleFontSize":20,"titlePadding":0,"titleX":466}},
"y":{"field":"v","type":"quantitative","scale":{"domain":[0,2],"nice":false,"zero":false},"axis":{"values":[0,1,2],"offset":2,"tickSize":10,"labelExpr":"datum.value === 0 ? '0' : ''","labelBaseline":"alphabetic","labelPadding":4,"title":"Magnitude (arb. unit)","titleFontSize":21,"titlePadding":-4}}},
"layer":[
{"data":{"name":"c"},"mark":{"type":"line","color":"black","strokeWidth":1.8}},
{"data":{"name":"lc"},"mark":{"type":"text","fontSize":19,"color":"black"},"encoding":{"text":{"field":"t"}}}
]}
]
}
